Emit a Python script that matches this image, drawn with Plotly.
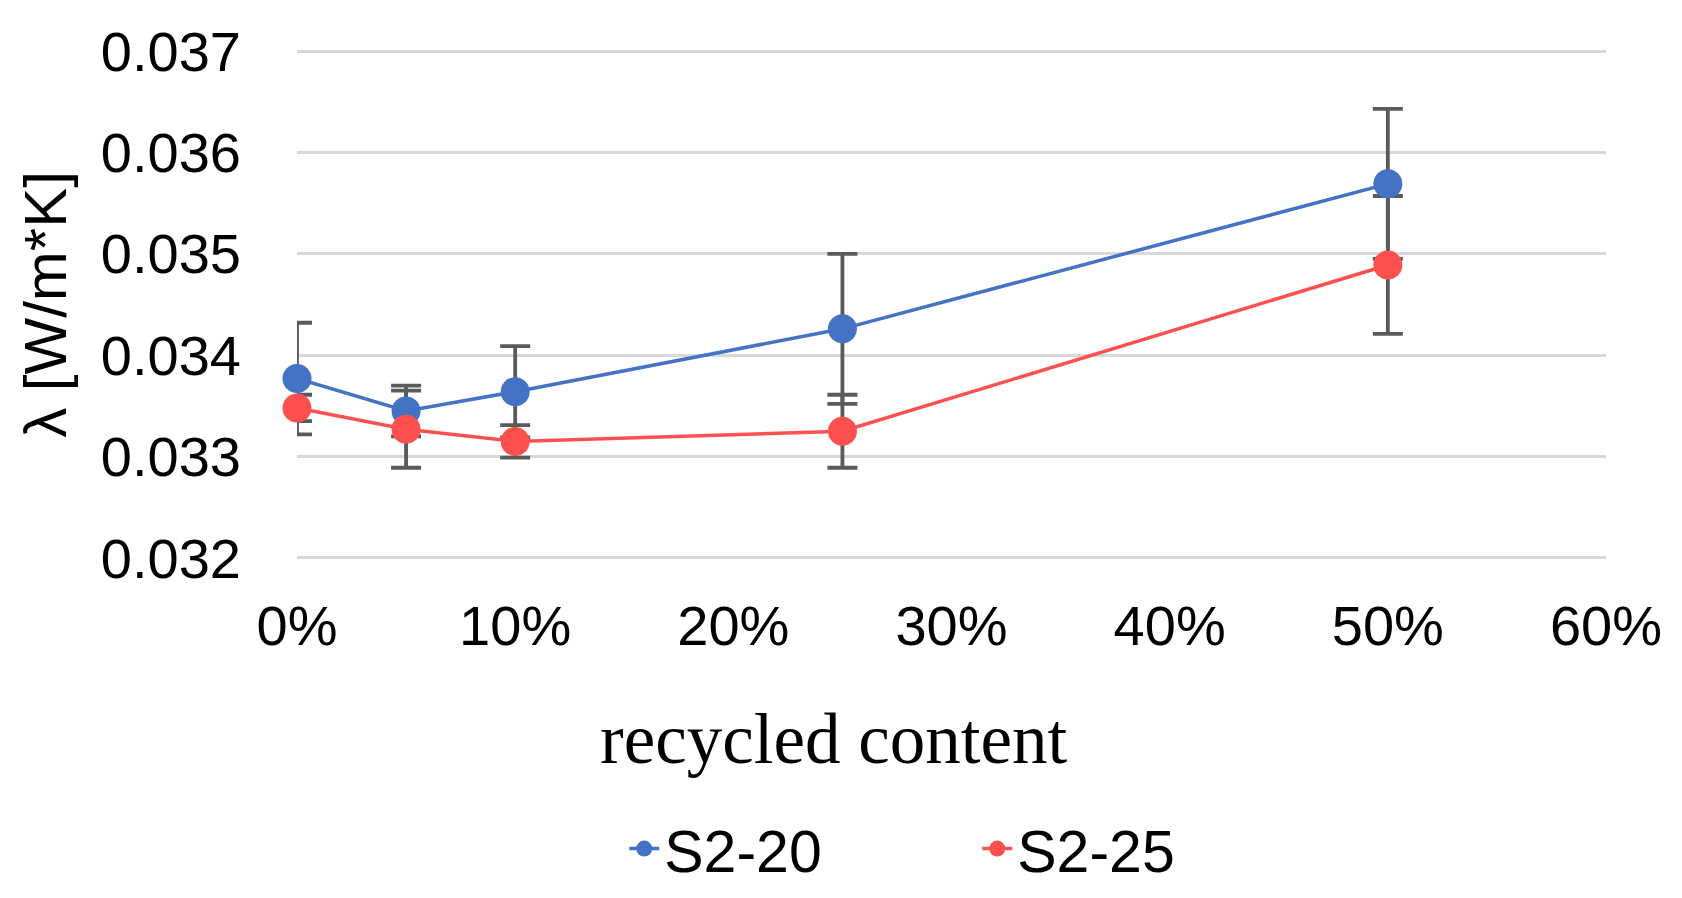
import plotly.graph_objects as go

recycled = [0.0, 0.05, 0.10, 0.25, 0.50]
s2_20 = [0.03377, 0.03345, 0.03364, 0.03426, 0.03569]
s2_20_err = [0.00055, 0.00025, 0.00045, 0.00074, 0.00074]
s2_25 = [0.03348, 0.03327, 0.03315, 0.03325, 0.03489]
s2_25_err = [0.00013, 0.00038, 0.00016, 0.00036, 0.00068]

names = ["S2-20", "S2-25"]
colors = ["#4472C4", "#FF5050"]
err_color = "#5A5A5A"

W, H = 1682, 898
L, R, T, B = 289, 84, 38, 346
PAD = 0.00002  # small range padding so edge gridlines are kept

fig = go.Figure()
series = [(s2_20, s2_20_err), (s2_25, s2_25_err)]
# error bars (clipped at plot edge)
for (vals, errs), name in zip(series, names):
    fig.add_trace(go.Scatter(
        x=recycled, y=vals, mode="markers",
        marker=dict(size=1, opacity=0),
        error_y=dict(type="data", array=errs, visible=True,
                     color=err_color, thickness=3.8, width=15),
        showlegend=False, hoverinfo="skip", cliponaxis=True))
# lines and markers
for (vals, errs), name, c in zip(series, names, colors):
    fig.add_trace(go.Scatter(
        x=recycled, y=vals, mode="lines+markers", name=name,
        line=dict(color=c, width=3.5),
        marker=dict(size=29, color=c),
        cliponaxis=False))

fig.update_layout(
    width=W, height=H,
    margin=dict(l=L, r=R, t=T, b=B),
    paper_bgcolor="white", plot_bgcolor="white",
    font=dict(family="Liberation Sans, Arial, sans-serif", size=56, color="black"),
    showlegend=True,
    legend=dict(orientation="h", x=0.250, xanchor="left", y=-0.565, yanchor="middle",
                font=dict(size=59), entrywidth=308, entrywidthmode="pixels",
                itemwidth=30, bgcolor="rgba(0,0,0,0)"),
    annotations=[dict(text="recycled content", xref="paper", yref="paper",
                      x=0.410, y=-0.350, xanchor="center", yanchor="middle",
                      showarrow=False,
                      font=dict(family="Liberation Serif, Times New Roman, serif", size=71, color="black"))],
)
fig.update_xaxes(range=[0, 0.6], dtick=0.1, tickformat=".0%", showgrid=False,
                 zeroline=False, showline=False, ticks="", ticklabelstandoff=28)
fig.update_yaxes(range=[0.032 - PAD, 0.037 + PAD], tick0=0.032, dtick=0.001, tickformat=".3f",
                 showgrid=True, gridcolor="#D9D9D9", gridwidth=3,
                 zeroline=False, showline=False, ticks="", ticklabelstandoff=55,
                 title=dict(text="λ [W/m*K]", standoff=14, font=dict(size=60)))

fig.write_html("out.html")
